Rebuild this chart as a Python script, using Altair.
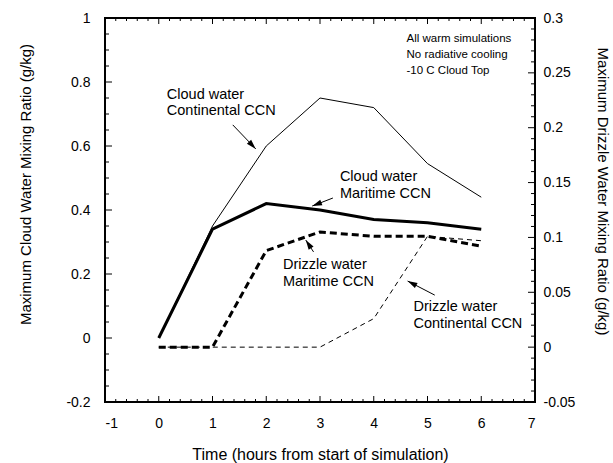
import math
import altair as alt
import numpy as np
import pandas as pd

# ---------------- data ----------------
hours = [0, 1, 2, 3, 4, 5, 6]
cloud_continental = [0.0, 0.35, 0.60, 0.75, 0.72, 0.545, 0.44]     # left axis
cloud_maritime = [0.0, 0.34, 0.42, 0.40, 0.37, 0.36, 0.34]         # left axis
drizzle_maritime = [0.0, 0.0, 0.088, 0.105, 0.101, 0.101, 0.092]   # right axis
drizzle_continental = [0.0, 0.0, 0.0, 0.0, 0.026, 0.101, 0.097]   # right axis

x_ticks = [-1, 0, 1, 2, 3, 4, 5, 6, 7]
left_ticks = [-0.2, 0, 0.2, 0.4, 0.6, 0.8, 1]
right_ticks = [-0.05, 0, 0.05, 0.1, 0.15, 0.2, 0.25, 0.3]

# annotation labels (positions in left-axis data units)
label_text = ["Cloud water", "Continental CCN", "Cloud water", "Maritime CCN",
              "Drizzle water", "Maritime CCN", "Drizzle water", "Continental CCN"]
label_x = [0.15, 0.15, 3.37, 3.37, 2.31, 2.31, 4.74, 4.74]
label_y = [0.759, 0.709, 0.503, 0.450, 0.228, 0.175, 0.097, 0.044]

note_text = ["All warm simulations", "No radiative cooling", "-10 C Cloud Top"]
note_x = [4.61, 4.61, 4.61]
note_y = [0.934, 0.884, 0.834]

arrow_x0 = [1.377, 3.24, 2.88, 5.135]
arrow_y0 = [0.666, 0.4375, 0.269, 0.134]
arrow_x1 = [1.805, 2.856, 2.735, 4.63]
arrow_y1 = [0.591, 0.4125, 0.306, 0.178]

# ---------------- layout ----------------
W, H = 430, 384
FONT = "Liberation Sans"
XMIN, XMAX, YLMIN, YLMAX = -1, 7, -0.2, 1
YRMIN, YRMAX = -0.05, 0.3
px_x = W / (XMAX - XMIN)        # pixels per hour
px_y = H / (YLMAX - YLMIN)      # pixels per left-axis unit

xs = alt.Scale(domain=[XMIN, XMAX], nice=False, zero=False)
yl = alt.Scale(domain=[YLMIN, YLMAX], nice=False, zero=False)
yr = alt.Scale(domain=[YRMIN, YRMAX], nice=False, zero=False)


def make_x_axis(title):
    return alt.Axis(values=x_ticks, title=title,
                    ticks=False, domain=False, grid=False,
                    labelFont=FONT, labelFontSize=14, labelColor="black", labelPadding=14,
                    titleFont=FONT, titleFontSize=16, titleFontWeight="normal",
                    titleColor="black", titleY=57, titleBaseline="alphabetic",
                    labelExpr="'' + datum.value")


x_axis_main = make_x_axis("Time (hours from start of simulation)")
x_axis_rest = make_x_axis("")

left_axis = alt.Axis(values=left_ticks, orient="left",
                     title="Maximum Cloud Water Mixing Ratio (g/kg)",
                     ticks=False, domain=False, grid=False,
                     labelFont=FONT, labelFontSize=14, labelColor="black", labelPadding=15,
                     titleFont=FONT, titleFontSize=15, titleFontWeight="normal",
                     titleColor="black", titleAngle=270, titleAlign="center",
                     titleBaseline="alphabetic", titleX=-75, titleY=166,
                     labelExpr="'' + datum.value")
right_axis = alt.Axis(values=right_ticks, orient="right",
                      title="Maximum Drizzle Water Mixing Ratio (g/kg)",
                      ticks=False, domain=False, grid=False,
                      labelFont=FONT, labelFontSize=14, labelColor="black", labelPadding=8,
                      titleFont=FONT, titleFontSize=15, titleFontWeight="normal",
                      titleColor="black", titleAngle=90, titleAlign="center",
                      titleBaseline="alphabetic", titleX=62, titleY=173,
                      labelExpr="'' + datum.value")


def X(field):
    return alt.X(field, scale=xs, axis=x_axis_rest)


def series_df(vals):
    return pd.DataFrame({"t": hours, "v": vals})


# lines on the left axis
l_cc = alt.Chart(series_df(cloud_continental)).mark_line(
    color="black", strokeWidth=1).encode(
    x=alt.X("t:Q", scale=xs, axis=x_axis_main),
    y=alt.Y("v:Q", scale=yl, axis=left_axis))
l_cm = alt.Chart(series_df(cloud_maritime)).mark_line(
    color="black", strokeWidth=3).encode(
    x=X("t:Q"), y=alt.Y("v:Q", scale=yl, axis=None))

# lines on the right axis
r_dm = alt.Chart(series_df(drizzle_maritime)).mark_line(
    color="black", strokeWidth=3, strokeDash=[7, 4]).encode(
    x=X("t:Q"), y=alt.Y("v:Q", scale=yr, axis=right_axis))
r_dc = alt.Chart(series_df(drizzle_continental)).mark_line(
    color="black", strokeWidth=1, strokeDash=[5, 4]).encode(
    x=X("t:Q"), y=alt.Y("v:Q", scale=yr, axis=None))

# ---- segments: inward frame ticks + annotation arrows (in left-axis units) ----
seg_x0, seg_y0, seg_x1, seg_y1 = [], [], [], []


def add_seg(a, b, c, d):
    seg_x0.append(a); seg_y0.append(b); seg_x1.append(c); seg_y1.append(d)


def right_to_left(v):
    return YLMIN + (v - YRMIN) / (YRMAX - YRMIN) * (YLMAX - YLMIN)


for i, v in enumerate(np.round(np.arange(-0.2, 1.0001, 0.05), 3).tolist()):
    L = (7 if i % 4 == 0 else 4) / px_x
    add_seg(XMIN, v, XMIN + L, v)
for i, v in enumerate(np.round(np.arange(-0.05, 0.3001, 0.01), 3).tolist()):
    L = (7 if i % 5 == 0 else 4) / px_x
    vv = right_to_left(v)
    add_seg(XMAX - L, vv, XMAX, vv)
for i, v in enumerate(np.round(np.arange(-1, 7.0001, 0.2), 2).tolist()):
    L = (6 if i % 5 == 0 else 3) / px_y
    add_seg(v, YLMIN, v, YLMIN + L)
    add_seg(v, YLMAX - L, v, YLMAX)
for a, b, c, d in zip(arrow_x0, arrow_y0, arrow_x1, arrow_y1):
    add_seg(a, b, c, d)

seg_df = pd.DataFrame({"x0": seg_x0, "y0": seg_y0, "x1": seg_x1, "y1": seg_y1})
segments = alt.Chart(seg_df).mark_rule(color="black", strokeWidth=1).encode(
    x=X("x0:Q"), y=alt.Y("y0:Q", scale=yl, axis=None),
    x2="x1:Q", y2="y1:Q")

# annotation text
labels = alt.Chart(pd.DataFrame({"x": label_x, "y": label_y, "s": label_text})).mark_text(
    align="left", baseline="middle", font=FONT, fontSize=14.5, color="black").encode(
    x=X("x:Q"), y=alt.Y("y:Q", scale=yl, axis=None), text="s:N")
notes = alt.Chart(pd.DataFrame({"x": note_x, "y": note_y, "s": note_text})).mark_text(
    align="left", baseline="middle", font=FONT, fontSize=11.5, color="black").encode(
    x=X("x:Q"), y=alt.Y("y:Q", scale=yl, axis=None), text="s:N")

# arrow heads
angles = []
for a, b, c, d in zip(arrow_x0, arrow_y0, arrow_x1, arrow_y1):
    dxp = (c - a) * px_x
    dyp = -(d - b) * px_y
    angles.append(math.degrees(math.atan2(dxp, -dyp)) % 360)
arrow_df = pd.DataFrame({"x1": arrow_x1, "y1": arrow_y1, "ang": angles})
arrow_heads = alt.Chart(arrow_df).mark_point(
    shape="M0,0 L-0.3,1 L0.3,1 Z", filled=True, color="black", opacity=1,
    size=380, strokeWidth=0).encode(
    x=X("x1:Q"), y=alt.Y("y1:Q", scale=yl, axis=None),
    angle=alt.Angle("ang:Q", scale=None))

chart = alt.layer(
    l_cc, r_dm, l_cm, r_dc, labels, notes, segments, arrow_heads
).resolve_scale(y="independent").properties(
    width=W, height=H,
    autosize=alt.AutoSizeParams(type="none"),
    padding={"left": 105, "top": 18, "right": 78, "bottom": 61},
    background="white",
).configure(
    style={"guide-title": {"fontWeight": "normal"}}
).configure_view(stroke="black", strokeWidth=2).configure_axis(
    titleFontWeight="normal")

chart.save("out.html", embed_options={"renderer": "svg", "actions": False})
